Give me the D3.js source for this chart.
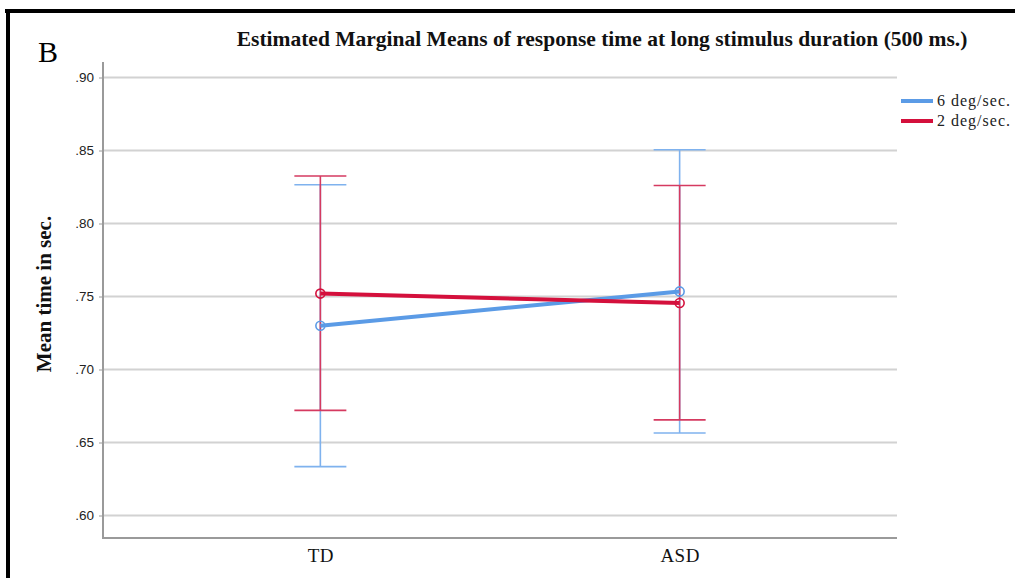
<!DOCTYPE html>
<html>
<head>
<meta charset="utf-8">
<script src="https://cdn.jsdelivr.net/npm/d3@7"></script>
<style>
  html, body { margin: 0; padding: 0; background: #fff; }
  svg { display: block; }
</style>
</head>
<body>
<svg id="chart" width="1015" height="578"></svg>
<script>
// Groups on the x axis
const groups = ["TD", "ASD"];
// Series (stimulus speed)
const seriesNames = ["6 deg/sec.", "2 deg/sec."];
const seriesColors = ["#5b9be6", "#d4103c"];
const barColors = ["#7fb2ee", "#d53a60"];
// Estimated marginal means per group, one array per series
const means6 = [0.730, 0.7535];
const means2 = [0.752, 0.7455];
// 95% CI bounds
const lower6 = [0.6335, 0.6565];
const upper6 = [0.8265, 0.8505];
const lower2 = [0.672, 0.6655];
const upper2 = [0.8325, 0.826];
// Y tick values and labels
const yTicks = [0.60, 0.65, 0.70, 0.75, 0.80, 0.85, 0.90];
const yTickLabels = [".60", ".65", ".70", ".75", ".80", ".85", ".90"];

const series = [
  { name: seriesNames[0], color: seriesColors[0], bar: barColors[0], mean: means6, lo: lower6, hi: upper6 },
  { name: seriesNames[1], color: seriesColors[1], bar: barColors[1], mean: means2, lo: lower2, hi: upper2 }
];

const svg = d3.select("#chart");
const plot = { left: 103, right: 897, top: 62, bottom: 538 };

const y = d3.scaleLinear().domain([0.60, 0.90]).range([515.5, 77.5]);
const x = d3.scalePoint().domain(groups).range([plot.left, plot.right]).padding(0.605);

const serif = "Liberation Serif, Times New Roman, serif";

// Frame border (top and left)
svg.append("rect").attr("x", 5).attr("y", 9).attr("width", 1015).attr("height", 4).attr("fill", "#000");
svg.append("rect").attr("x", 6).attr("y", 9).attr("width", 4).attr("height", 578).attr("fill", "#000");

// Panel letter
svg.append("text").attr("x", 38).attr("y", 62)
  .attr("font-family", serif).attr("font-size", 30).attr("fill", "#000").text("B");

// Title
svg.append("text").attr("x", 602).attr("y", 46).attr("text-anchor", "middle")
  .attr("font-family", serif).attr("font-weight", "bold")
  .attr("font-size", 21.5).attr("fill", "#111")
  .text("Estimated Marginal Means of response time at long stimulus duration (500 ms.)");

// Gridlines
svg.append("g").selectAll("line").data(yTicks).join("line")
  .attr("x1", plot.left).attr("x2", plot.right)
  .attr("y1", d => y(d)).attr("y2", d => y(d))
  .attr("stroke", "#d2d2d2").attr("stroke-width", 2);

// Y axis
const yAxis = d3.axisLeft(y).tickValues(yTicks)
  .tickFormat((d, i) => yTickLabels[i]).tickSize(4).tickPadding(5);
const gy = svg.append("g").attr("transform", `translate(${plot.left},0)`).call(yAxis);
gy.select(".domain").remove();
gy.selectAll(".tick line").attr("stroke", "#999").attr("stroke-width", 1);
gy.selectAll(".tick text").attr("font-family", "Liberation Sans, Arial, sans-serif")
  .attr("font-size", 13.5).attr("fill", "#222");
svg.append("line").attr("x1", plot.left).attr("x2", plot.left)
  .attr("y1", plot.top).attr("y2", plot.bottom).attr("stroke", "#9a9a9a").attr("stroke-width", 2);

// X axis
svg.append("line").attr("x1", plot.left - 1).attr("x2", plot.right)
  .attr("y1", plot.bottom).attr("y2", plot.bottom).attr("stroke", "#9a9a9a").attr("stroke-width", 2);
const xAxis = d3.axisBottom(x).tickSize(0).tickPadding(11);
const gx = svg.append("g").attr("transform", `translate(0,${plot.bottom})`).call(xAxis);
gx.select(".domain").remove();
gx.selectAll(".tick text").attr("font-family", serif)
  .attr("font-size", 19).attr("letter-spacing", 0.5).attr("fill", "#111");

// Y axis title
svg.append("text").attr("transform", "translate(51,294) rotate(-90)")
  .attr("text-anchor", "middle")
  .attr("font-family", serif).attr("font-weight", "bold")
  .attr("font-size", 21).attr("fill", "#111")
  .text("Mean time in sec.");

// Error bars
const capHalf = 26;
series.forEach(s => {
  const g = svg.append("g");
  groups.forEach((grp, i) => {
    const cx = x(grp);
    g.append("line").attr("x1", cx).attr("x2", cx)
      .attr("y1", y(s.lo[i])).attr("y2", y(s.hi[i]))
      .attr("stroke", s.bar).attr("stroke-width", 1.6);
    [s.lo[i], s.hi[i]].forEach(v => {
      g.append("line").attr("x1", cx - capHalf).attr("x2", cx + capHalf)
        .attr("y1", y(v)).attr("y2", y(v))
        .attr("stroke", s.bar).attr("stroke-width", 1.6);
    });
  });
});

// Mean lines and markers
const line = d3.line().x((d, i) => x(groups[i])).y(d => y(d));
series.forEach(s => {
  svg.append("path").datum(s.mean).attr("d", line)
    .attr("fill", "none").attr("stroke", s.color).attr("stroke-width", 4);
  svg.append("g").selectAll("circle").data(s.mean).join("circle")
    .attr("cx", (d, i) => x(groups[i])).attr("cy", d => y(d)).attr("r", 4.5)
    .attr("fill", "none").attr("stroke", s.color).attr("stroke-width", 1.6);
});

// Legend
const legend = svg.append("g");
series.forEach((s, i) => {
  const ly = 101 + i * 20;
  legend.append("line").attr("x1", 901).attr("x2", 933).attr("y1", ly).attr("y2", ly)
    .attr("stroke", s.color).attr("stroke-width", 4);
  legend.append("text").attr("x", 937).attr("y", ly + 5)
    .attr("font-family", serif).attr("letter-spacing", 1)
    .attr("font-size", 16).attr("fill", "#222").text(s.name);
});
</script>
</body>
</html>
